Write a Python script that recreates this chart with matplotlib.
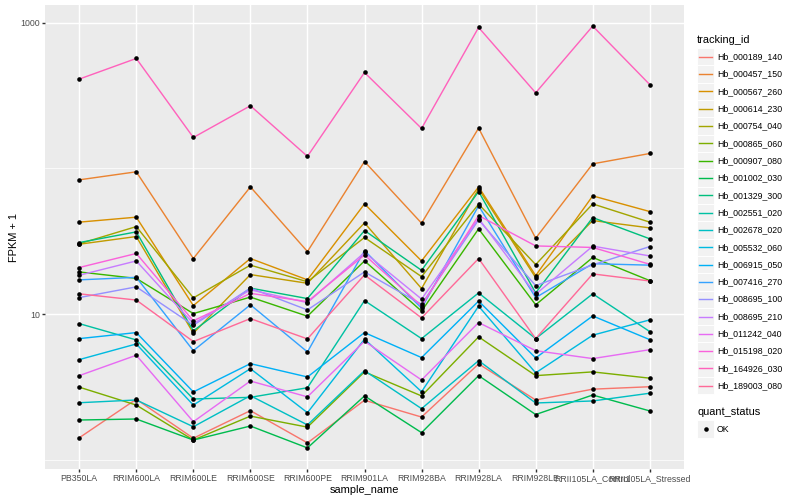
import math
import numpy as np
import matplotlib
matplotlib.use("Agg")
import matplotlib.pyplot as plt
from matplotlib.patches import Rectangle
from matplotlib.lines import Line2D
from matplotlib.ticker import FixedLocator, NullFormatter

plt.rcParams['font.family'] = ['Liberation Sans', 'DejaVu Sans']

# ---------------- data ----------------
samples = ["PB350LA", "RRIM600LA", "RRIM600LE", "RRIM600SE", "RRIM600PE",
           "RRIM901LA", "RRIM928BA", "RRIM928LA", "RRIM928LE",
           "RRII105LA_Control", "RRII105LA_Stressed"]

tracking_ids = ["Hb_000189_140", "Hb_000457_150", "Hb_000567_260", "Hb_000614_230",
                "Hb_000754_040", "Hb_000865_060", "Hb_000907_080", "Hb_001002_030",
                "Hb_001329_300", "Hb_002551_020", "Hb_002678_020", "Hb_005532_060",
                "Hb_006915_050", "Hb_007416_270", "Hb_008695_100", "Hb_008695_210",
                "Hb_011242_040", "Hb_015198_020", "Hb_164926_030", "Hb_189003_080"]

hb_000189_140 = [1.42, 2.61, 1.41, 2.18, 1.31, 2.57, 1.97, 4.56, 2.58, 3.06, 3.18]
hb_000457_150 = [83.5, 94.8, 24.1, 74.7, 26.9, 111.5, 42.1, 189, 33.2, 107.5, 126.6]
hb_000567_260 = [42.8, 46.3, 11.46, 24.1, 17.2, 57.1, 23.2, 74.7, 18.4, 64.8, 50.6]
hb_000614_230 = [30.2, 34.1, 7.41, 18.7, 16.3, 42.3, 15.0, 72.4, 17.8, 43.9, 39.1]
hb_000754_040 = [30.4, 39.9, 12.94, 21.7, 16.7, 33.6, 18.1, 56.9, 21.9, 57.1, 42.8]
hb_000865_060 = [3.16, 2.38, 1.37, 2.00, 1.68, 4.02, 2.75, 6.99, 3.79, 4.02, 3.64]
hb_000907_080 = [19.5, 17.6, 10.1, 13.1, 9.69, 23.2, 10.5, 38.5, 11.6, 24.5, 17.0]
hb_001002_030 = [1.88, 1.91, 1.37, 1.71, 1.21, 2.75, 1.54, 3.79, 2.05, 2.79, 2.17]
hb_001329_300 = [31.0, 36.7, 7.68, 15.1, 12.8, 37.5, 20.0, 69.4, 14.0, 46.0, 32.9]
hb_002551_020 = [8.62, 6.66, 2.62, 2.69, 3.13, 12.4, 6.80, 14.0, 6.80, 13.8, 7.60]
hb_002678_020 = [2.47, 2.58, 1.69, 2.76, 1.74, 4.10, 2.25, 4.80, 2.46, 2.54, 2.87]
hb_005532_060 = [4.88, 6.25, 2.38, 4.23, 2.11, 6.74, 2.94, 11.35, 3.96, 7.18, 9.14]
hb_006915_050 = [6.80, 7.48, 2.93, 4.58, 3.71, 7.48, 5.04, 12.3, 5.01, 9.73, 6.69]
hb_007416_270 = [17.2, 17.9, 5.62, 11.6, 5.51, 27.3, 11.0, 55.4, 13.0, 22.2, 21.7]
hb_008695_100 = [13.0, 15.4, 8.40, 15.1, 10.7, 19.5, 11.7, 44.4, 15.7, 21.8, 29.1]
hb_008695_210 = [18.5, 23.2, 8.62, 14.7, 12.0, 26.5, 12.7, 45.3, 13.7, 29.3, 25.1]
hb_011242_040 = [3.79, 5.23, 1.83, 3.48, 2.71, 6.53, 3.54, 8.76, 5.62, 4.96, 5.71]
hb_015198_020 = [20.9, 26.1, 9.00, 13.9, 12.2, 25.5, 11.4, 47.5, 29.4, 28.7, 22.0]
hb_164926_030 = [410, 568, 163, 269, 121, 455, 188, 927, 330, 947, 376]
hb_189003_080 = [13.8, 12.5, 6.49, 9.33, 6.77, 18.6, 9.43, 24.1, 6.80, 18.9, 16.9]

series = [hb_000189_140, hb_000457_150, hb_000567_260, hb_000614_230, hb_000754_040,
          hb_000865_060, hb_000907_080, hb_001002_030, hb_001329_300, hb_002551_020,
          hb_002678_020, hb_005532_060, hb_006915_050, hb_007416_270, hb_008695_100,
          hb_008695_210, hb_011242_040, hb_015198_020, hb_164926_030, hb_189003_080]

quant_status = ["OK"]


# ---------------- ggplot hue palette ----------------
def hcl_hex(h, c=100.0, l=65.0):
    hr = math.radians(h)
    u = c * math.cos(hr)
    v = c * math.sin(hr)
    Y = ((l + 16.0) / 116.0) ** 3
    Xn, Yn, Zn = 0.95047, 1.0, 1.08883
    den = Xn + 15 * Yn + 3 * Zn
    un, vn = 4 * Xn / den, 9 * Yn / den
    up = u / (13 * l) + un
    vp = v / (13 * l) + vn
    X = Y * 9 * up / (4 * vp)
    Z = Y * (12 - 3 * up - 20 * vp) / (4 * vp)
    r = 3.240479 * X - 1.537150 * Y - 0.498535 * Z
    g = -0.969256 * X + 1.875992 * Y + 0.041556 * Z
    b = 0.055648 * X - 0.204043 * Y + 1.057311 * Z

    def gam(t):
        t = 12.92 * t if t <= 0.0031308 else 1.055 * t ** (1 / 2.4) - 0.055
        return min(max(t, 0.0), 1.0)
    return (gam(r), gam(g), gam(b))


n = len(tracking_ids)
colors = [hcl_hex(15 + 360.0 * i / n) for i in range(n)]

# ---------------- figure ----------------
W, H = 800, 500
fig = plt.figure(figsize=(8, 5), dpi=100)
fig.patch.set_facecolor("white")


def fx(x):
    return x / W


def fy(y):
    return 1 - y / H


ax = fig.add_axes([fx(45), fy(469), (684 - 45) / W, (469 - 5) / H])
ax.set_facecolor("#EBEBEB")
for s in ax.spines.values():
    s.set_visible(False)

xpos = np.arange(len(samples))
LW = 1.02
for vals, col in zip(series, colors):
    ax.plot(xpos, vals, color=col, lw=LW, zorder=3, solid_capstyle="butt")
for vals in series:
    ax.plot(xpos, vals, linestyle="none", marker="o", ms=3.3, color="black",
            mec="black", mew=0, zorder=4)

ax.set_yscale("log")
allv = np.log10(np.concatenate([np.array(s, float) for s in series]))
lo, hi = allv.min(), allv.max()
pad = 0.05 * (hi - lo)
ax.set_ylim(10 ** (lo - pad), 10 ** (hi + pad))
ax.set_xlim(-0.6, len(samples) - 1 + 0.6)

ax.yaxis.set_major_locator(FixedLocator([10, 1000]))
ax.set_yticklabels(["10", "1000"])
ax.yaxis.set_minor_locator(FixedLocator([1, 100]))
ax.yaxis.set_minor_formatter(NullFormatter())
ax.set_xticks(xpos)
ax.set_xticklabels(samples)

ax.tick_params(which="major", length=1.98, width=LW, color="#333333",
               labelsize=6.34, labelcolor="#4D4D4D", pad=1.6)
ax.tick_params(which="minor", length=0)
ax.grid(which="major", color="white", lw=LW, zorder=1)
ax.grid(which="minor", axis="y", color="white", lw=0.51, zorder=1)
ax.set_axisbelow(True)

fig.text(fx(364.5), fy(490), "sample_name", ha="center", va="center",
         fontsize=7.92, color="black")
fig.text(fx(14), fy(237), "FPKM + 1", ha="center", va="center",
         rotation=90, fontsize=7.92, color="black")

# ---------------- legend ----------------
kx0, kw = 697, 17.0
row_h = 17.32
first_c = 56.7
fig.text(fx(697), fy(40), "tracking_id", ha="left", va="center",
         fontsize=7.92, color="black")
for i, (tid, col) in enumerate(zip(tracking_ids, colors)):
    cy = first_c + row_h * i
    fig.add_artist(Rectangle((fx(kx0), fy(cy + row_h / 2)), kw / W, row_h / H,
                             transform=fig.transFigure, facecolor="#F2F2F2",
                             edgecolor="white", lw=0.7))
    fig.add_artist(Line2D([fx(kx0 + 1.7), fx(kx0 + kw - 1.7)], [fy(cy), fy(cy)],
                          transform=fig.transFigure, color=col, lw=LW))
    fig.text(fx(717), fy(cy), tid, ha="left", va="center", fontsize=6.34,
             color="black")

fig.text(fx(697), fy(411.7), "quant_status", ha="left", va="center",
         fontsize=7.92, color="black")
for j, qs in enumerate(quant_status):
    cy = 429 + row_h * j
    fig.add_artist(Rectangle((fx(kx0), fy(cy + row_h / 2)), kw / W, row_h / H,
                             transform=fig.transFigure, facecolor="#F2F2F2",
                             edgecolor="white", lw=0.7))
    fig.add_artist(Line2D([fx(kx0 + kw / 2)], [fy(cy)], transform=fig.transFigure,
                          marker="o", ms=3.3, color="black", mew=0, linestyle="none"))
    fig.text(fx(717), fy(cy), qs, ha="left", va="center", fontsize=6.34,
             color="black")

fig.savefig("out.png", dpi=100)
